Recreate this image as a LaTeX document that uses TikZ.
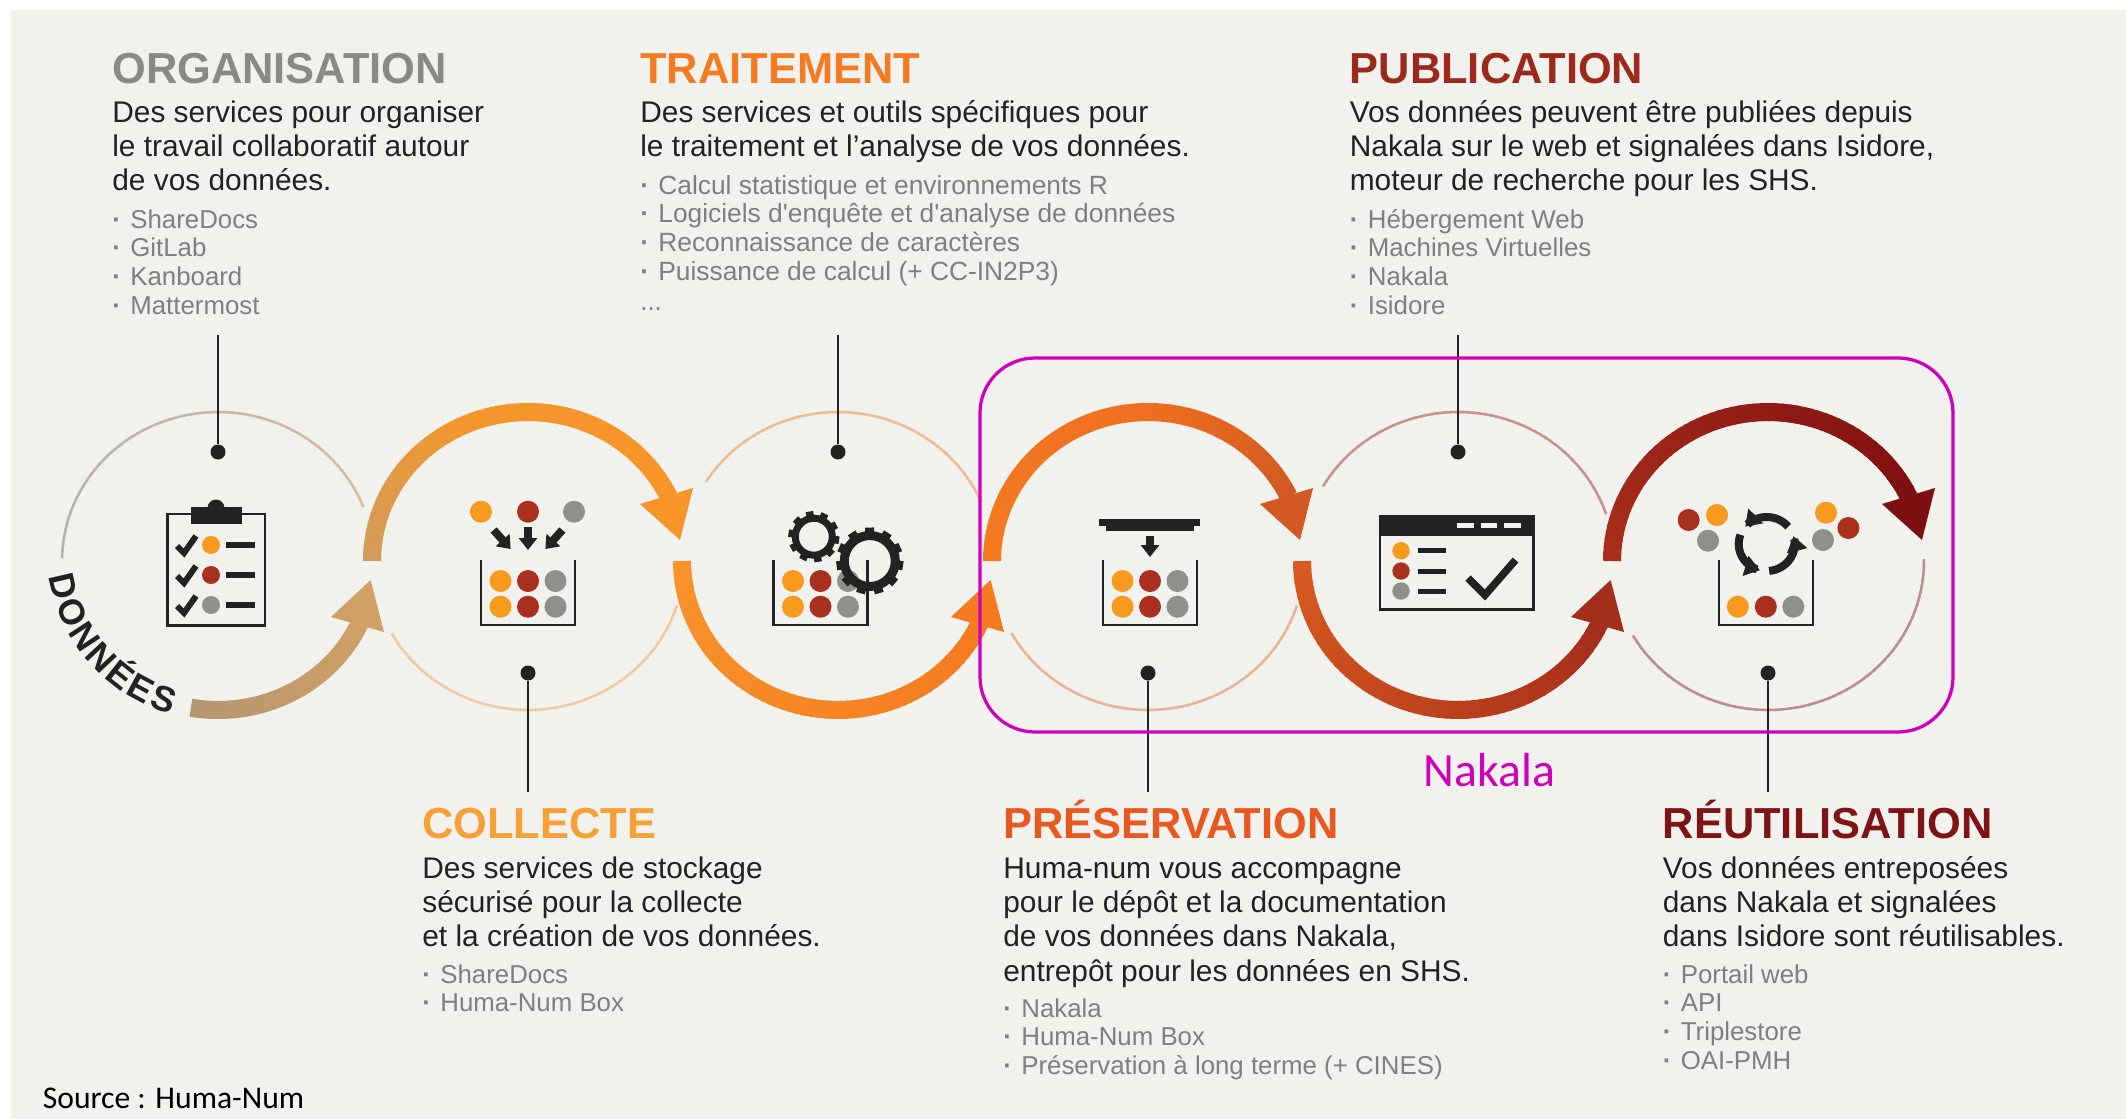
\documentclass[tikz,border=0pt]{standalone}
\usepackage{fontspec}
\setmainfont{Liberation Sans}
\newfontfamily\carlitofont{Carlito}
\usetikzlibrary{arrows.meta,decorations.text}
\definecolor{panel}{HTML}{F1F1ED}
\definecolor{ink}{HTML}{222222}
\definecolor{listgrey}{HTML}{7F7F7F}
\definecolor{magentaline}{HTML}{CF00BA}
\definecolor{dorange}{HTML}{F79A1E}
\definecolor{dred}{HTML}{A9301E}
\definecolor{dgrey}{HTML}{8F8F8C}
\definecolor{torg}{HTML}{8A8985}
\definecolor{ttrt}{HTML}{F47B20}
\definecolor{tpub}{HTML}{9C2A1C}
\definecolor{tcol}{HTML}{F7A035}
\definecolor{tpre}{HTML}{E8591F}
\definecolor{treu}{HTML}{7E1416}
\definecolor{a1a}{HTML}{B6966F}\definecolor{a1b}{HTML}{D0A066}
\definecolor{a2a}{HTML}{D19C5B}\definecolor{a2b}{HTML}{F5962B}
\definecolor{a3a}{HTML}{F7942A}\definecolor{a3b}{HTML}{F57A20}
\definecolor{a4a}{HTML}{F47B20}\definecolor{a4m}{HTML}{EE6F20}\definecolor{a4b}{HTML}{D25A22}
\definecolor{a5a}{HTML}{D9591F}\definecolor{a5b}{HTML}{A32E1B}
\definecolor{a6a}{HTML}{A92E1B}\definecolor{a6b}{HTML}{7E0F10}
\definecolor{t1a}{HTML}{B2B2AE}\definecolor{t1b}{HTML}{DABE9B}
\definecolor{t2}{HTML}{EFCBA0}\definecolor{t3}{HTML}{EDBD94}
\definecolor{t4}{HTML}{E6B59A}\definecolor{t5}{HTML}{C9938B}\definecolor{t6}{HTML}{BC8F8F}
\tikzset{
  headtext/.style={inner sep=0pt,anchor=base west,font=\bfseries\fontsize{24.7}{28}\selectfont},
  bodytext/.style={inner sep=0pt,anchor=base west,text=ink,font=\fontsize{17}{19.63}\selectfont},
  listtext/.style={inner sep=0pt,anchor=base west,text=listgrey,font=\fontsize{14.7}{16.33}\selectfont},
  listwide/.style={inner sep=0pt,anchor=base west,text=listgrey,font=\fontsize{15}{16.33}\selectfont},
  stickdot/.style={circle,fill=ink,inner sep=0pt,minimum size=.3cm},
  stick/.style={draw=ink,line width=.05cm},
  iconline/.style={draw=ink,line width=.055cm},
  iconbar/.style={draw=ink,line width=.12cm},
  iconarrow/.style={draw=ink,line width=.16cm,-{Triangle[length=.24cm,width=.36cm]}},
  nakalabox/.style={draw=magentaline,line width=.065cm,rounded corners=1.1cm},
}
% cx, t0, t1, width(px), colour A, colour B
\newcommand\gradarc[6]{%
  \foreach \i in {0,...,59}{%
    \pgfmathsetmacro\ta{#2+(#3-#2)*\i/60}%
    \pgfmathsetmacro\tb{#2+(#3-#2)*(\i+1.3)/60}%
    \pgfmathtruncatemacro\pp{100*\i/59}%
    \draw[line width=#4*0.02cm,color=#6!\pp!#5] ({#1+156*cos(\ta)},{561-149*sin(\ta)}) -- ({#1+156*cos(\tb)},{561-149*sin(\tb)});
  }}
\newcommand\tophead[2]{\fill[#2] ({#1+152},540) -- ({#1+112},504) -- ({#1+165},488) -- cycle;}
\newcommand\bothead[2]{\fill[#2] ({#1+152.6},580) -- ({#1+113},617) -- ({#1+166},632) -- cycle;}
\newcommand\binbox[1]{\draw[iconline] ({#1-47},560) -- ({#1-47},625) -- ({#1+47},625) -- ({#1+47},560);}
\newcommand\binrow[2]{%
  \fill[dorange] ({#1-27.5},#2) circle[radius=11];
  \fill[dred] (#1,#2) circle[radius=11];
  \fill[dgrey] ({#1+27.5},#2) circle[radius=11];}
% cx, cy, ring mid, ring width, outer radius, teeth, tooth width
\newcommand\gearicon[7]{%
  \draw[ink,line width=#4*0.02cm] (#1,#2) circle[radius=#3];
  \pgfmathsetmacro\gstep{360/#6}%
  \pgfmathtruncatemacro\glast{#6-1}%
  \foreach \k in {0,...,\glast}{%
    \pgfmathsetmacro\ga{\k*\gstep+8}%
    \draw[ink,line width=#7*0.02cm] ({#1+#3*cos(\ga)},{#2+#3*sin(\ga)}) -- ({#1+#5*cos(\ga)},{#2+#5*sin(\ga)});
  }}
\newcommand\cyclearc[2]{\draw[ink,line width=.16cm,-{Triangle[length=.3cm,width=.4cm]}] plot[domain=#1:#2,samples=16] ({1766.7+28*cos(\x)},{544-27*sin(\x)});}
\newcommand\tick[1]{\draw[ink,line width=.12cm] (177,{#1+1}) -- (184,{#1+8}) -- (196,{#1-9});}
\begin{document}
\begin{tikzpicture}[x=0.02cm,y=-0.02cm]
\useasboundingbox (0,0) rectangle (2126,1119);
\fill[panel] (11,10) rectangle (2126,1119);

% thin arcs
\gradarc{218}{179}{22}{2.5}{t1a}{t1b}
\gradarc{528}{209}{342}{2.5}{t2}{t2}
\gradarc{838}{148}{24}{2.5}{t3}{t3}
\gradarc{1148}{209}{342}{2.5}{t4}{t4}
\gradarc{1458}{150}{19}{2.5}{t5}{t5}
\gradarc{1768}{210}{360}{2.5}{t6}{t6}

% thick arrows
\gradarc{218}{260}{335}{18}{a1a}{a1b}
\bothead{218}{a1b}
\gradarc{528}{180}{110}{18}{a2a}{a2b}
\gradarc{528}{110}{26}{18}{a2b}{a3a}
\tophead{528}{a3a}
\gradarc{838}{180}{335}{18}{a3a}{a3b}
\bothead{838}{a3b}
\gradarc{1148}{180}{90}{18}{a4a}{a4m}
\gradarc{1148}{90}{26}{18}{a4m}{a4b}
\tophead{1148}{a4b}
\gradarc{1458}{180}{335}{18}{a5a}{a5b}
\bothead{1458}{a5b}
\gradarc{1768}{180}{26}{18}{a6a}{a6b}
\tophead{1770}{a6b}

% DONNEES
\path[decorate,decoration={text along path,text align=fit to path,
  text={|\bfseries\fontsize{20.3}{24}\selectfont\color{ink}|DONNÉES}}]
  plot[domain=171:106,samples=40] ({218+171*cos(\x)},{550+171*sin(\x)});

% clipboard icon
\draw[iconline] (167.6,514) rectangle (265,625.7);
\fill[ink] (190.5,507) rectangle (242.4,524);
\fill[ink] (216,508) circle[radius=8.5];
\foreach \r/\c in {545/dorange,575/dred,605/dgrey}{
  \tick{\r}
  \fill[\c] (211,\r) circle[radius=9];
  \draw[iconbar] (226,\r) -- (255,\r);
}

% collecte icon
\fill[dorange] (481,511.7) circle[radius=11];
\fill[dred] (528,511.7) circle[radius=11];
\fill[dgrey] (574,511.7) circle[radius=11];
\draw[iconarrow] (493.6,530) -- (510.6,549);
\draw[iconarrow] (528,527) -- (528,550);
\draw[iconarrow] (562.4,530) -- (545.4,549);
\binrow{528}{581}
\binrow{528}{606.7}
\binbox{528}

% traitement icon
\binrow{820.5}{581}
\binrow{820.5}{606.7}
\binbox{820.5}
\gearicon{813.8}{536.7}{18.5}{7}{25.5}{10}{7.5}
\gearicon{869.8}{561}{25.5}{9}{33.5}{11}{9}

% preservation icon
\fill[ink] (1099.4,519) rectangle (1200.4,526);
\fill[ink] (1106,525) rectangle (1193.5,530.7);
\draw[iconarrow] (1150,536) -- (1150,557);
\binrow{1150}{581}
\binrow{1150}{606.7}
\binbox{1150}

% publication icon
\draw[iconline] (1380,516) rectangle (1533.4,609.3);
\fill[ink] (1380,516) rectangle (1533.4,536);
\foreach \a/\b in {1456.8/1473.8,1480.6/1497.2,1504/1521}{
  \fill[panel] (\a,523) rectangle (\b,528);
}
\foreach \r/\c in {550.7/dorange,571/dred,591/dgrey}{
  \fill[\c] (1401,\r) circle[radius=8.7];
  \draw[ink,line width=.1cm] (1417.7,\r) -- (1446,\r);
}
\draw[ink,line width=.15cm] (1468,578) -- (1485,595) -- (1515.5,560);

% reutilisation icon
\binbox{1766}
\fill[dorange] (1737.8,606.7) circle[radius=11];
\fill[dred] (1765.8,606.7) circle[radius=11];
\fill[dgrey] (1793.3,606.7) circle[radius=11];
\fill[dred] (1688.6,520) circle[radius=11];
\fill[dorange] (1717,515) circle[radius=11];
\fill[dgrey] (1708,540.7) circle[radius=11];
\fill[dorange] (1826,512.7) circle[radius=11];
\fill[dred] (1848.4,528) circle[radius=11];
\fill[dgrey] (1823,540) circle[radius=11];
\cyclearc{40}{140}
\cyclearc{160}{256}
\cyclearc{275}{377}

% sticks
\coordinate (top1) at (218,335);
\coordinate (top3) at (838,335);
\coordinate (top5) at (1458,335);
\coordinate (bot2) at (528,792);
\coordinate (bot4) at (1148,792);
\coordinate (bot6) at (1768,792);
\node[stickdot] (dot1) at (218,452) {};
\node[stickdot] (dot2) at (528,673) {};
\node[stickdot] (dot3) at (838,452) {};
\node[stickdot] (dot4) at (1148,673) {};
\node[stickdot] (dot5) at (1458,452) {};
\node[stickdot] (dot6) at (1768,673) {};
\draw[stick] (top1) -- (dot1);
\draw[stick] (bot2) -- (dot2);
\draw[stick] (top3) -- (dot3);
\draw[stick] (bot4) -- (dot4);
\draw[stick] (top5) -- (dot5);
\draw[stick] (bot6) -- (dot6);

% Nakala
\draw[nakalabox] (980,358) rectangle (1953,732);
\node[inner sep=0pt,anchor=base,text=magentaline,font=\carlitofont\fontsize{27.2}{30}\selectfont] (nakala) at (1489.5,786) {Nakala};
\node[inner sep=0pt,anchor=base west,text=black,font=\carlitofont\fontsize{18}{22}\selectfont] (source) at (42.5,1108) {Source : Huma-Num};

\newcommand\li[1]{\hbox{\makebox[.36cm][l]{\bfseries ·}#1}}
% ORGANISATION
\node[headtext,text=torg] (orgh) at (112,83) {ORGANISATION};
\node[bodytext] (orgb) at (112,122) {\vtop{\hbox{Des services pour organiser}\hbox{le travail collaboratif autour}\hbox{de vos données.}}};
\node[listtext] (orgl) at (112,228) {\vtop{\li{ShareDocs}\li{GitLab}\li{Kanboard}\li{Mattermost}}};
% TRAITEMENT
\node[headtext,text=ttrt] (trth) at (640,83) {TRAITEMENT};
\node[bodytext] (trtb) at (640,122) {\vtop{\hbox{Des services et outils spécifiques pour}\hbox{le traitement et l’analyse de vos données.}}};
\node[listwide] (trtl) at (640,194) {\vtop{\li{Calcul statistique et environnements R}\li{Logiciels d\textquotesingle enquête et d\textquotesingle analyse de données}\li{Reconnaissance de caractères}\li{Puissance de calcul (+ CC-IN2P3)}}};
\node[listtext] (trtd) at (640,310) {...};
% PUBLICATION
\node[headtext,text=tpub] (pubh) at (1349.5,83) {PUBLICATION};
\node[bodytext] (pubb) at (1349.5,122) {\vtop{\hbox{Vos données peuvent être publiées depuis}\hbox{Nakala sur le web et signalées dans Isidore,}\hbox{moteur de recherche pour les SHS.}}};
\node[listtext] (publ) at (1349.5,228) {\vtop{\li{Hébergement Web}\li{Machines Virtuelles}\li{Nakala}\li{Isidore}}};
% COLLECTE
\node[headtext,text=tcol] (colh) at (422,838) {COLLECTE};
\node[bodytext] (colb) at (422,878) {\vtop{\hbox{Des services de stockage}\hbox{sécurisé pour la collecte}\hbox{et la création de vos données.}}};
\node[listtext] (coll) at (422,983) {\vtop{\li{ShareDocs}\li{Huma-Num Box}}};
% PRESERVATION
\node[headtext,text=tpre] (preh) at (1003,838) {PRÉSERVATION};
\node[bodytext] (preb) at (1003,878) {\vtop{\hbox{Huma-num vous accompagne}\hbox{pour le dépôt et la documentation}\hbox{de vos données dans Nakala,}\hbox{entrepôt pour les données en SHS.}}};
\node[listtext] (prel) at (1003,1017) {\vtop{\li{Nakala}\li{Huma-Num Box}\li{Préservation à long terme (+ CINES)}}};
% REUTILISATION
\node[headtext,text=treu] (reuh) at (1662.5,838) {RÉUTILISATION};
\node[bodytext] (reub) at (1662.5,878) {\vtop{\hbox{Vos données entreposées}\hbox{dans Nakala et signalées}\hbox{dans Isidore sont réutilisables.}}};
\node[listtext] (reul) at (1662.5,983) {\vtop{\li{Portail web}\li{API}\li{Triplestore}\li{OAI-PMH}}};
\end{tikzpicture}
\end{document}
